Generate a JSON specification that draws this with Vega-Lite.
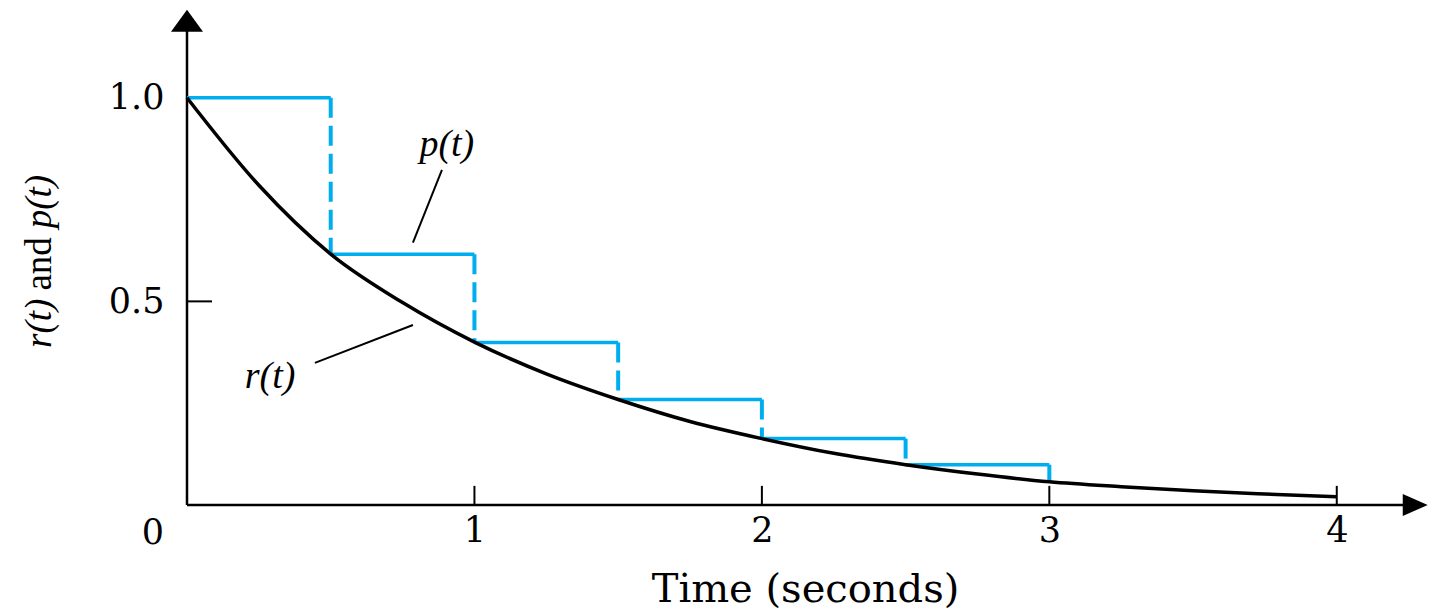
{
  "$schema": "https://vega.github.io/schema/vega-lite/v6.json",
  "width": 1236,
  "height": 505,
  "autosize": {"type": "none"},
  "padding": {"left": 187, "top": 0, "right": 6, "bottom": 106},
  "background": "white",
  "config": {"view": {"stroke": null}},
  "datasets": {
    "curve": [
      {"t": 0, "v": 1.0}, {"t": 0.25, "v": 0.785}, {"t": 0.5, "v": 0.616}, {"t": 0.75, "v": 0.497},
      {"t": 1.0, "v": 0.4}, {"t": 1.25, "v": 0.322}, {"t": 1.5, "v": 0.259}, {"t": 1.75, "v": 0.205},
      {"t": 2.0, "v": 0.163}, {"t": 2.25, "v": 0.127}, {"t": 2.5, "v": 0.099}, {"t": 2.75, "v": 0.076},
      {"t": 3.0, "v": 0.057}, {"t": 3.25, "v": 0.045}, {"t": 3.5, "v": 0.035}, {"t": 3.75, "v": 0.027},
      {"t": 4.0, "v": 0.02}
    ],
    "stepH": [
      {"t": 0, "t2": 0.5, "v": 1.0},
      {"t": 0.5, "t2": 1.0, "v": 0.616},
      {"t": 1.0, "t2": 1.5, "v": 0.399},
      {"t": 1.5, "t2": 2.0, "v": 0.259},
      {"t": 2.0, "t2": 2.5, "v": 0.163},
      {"t": 2.5, "t2": 3.0, "v": 0.099}
    ],
    "stepV": [
      {"t": 0.5, "v": 1.0, "v2": 0.616},
      {"t": 1.0, "v": 0.616, "v2": 0.399},
      {"t": 1.5, "v": 0.399, "v2": 0.259},
      {"t": 2.0, "v": 0.259, "v2": 0.163},
      {"t": 2.5, "v": 0.163, "v2": 0.099},
      {"t": 3.0, "v": 0.099, "v2": 0.057}
    ],
    "axisLines": [
      {"t": 0, "t2": 4.24, "v": 0, "v2": 0},
      {"t": 0, "t2": 0, "v": 0, "v2": 1.17}
    ],
    "xTicks": [
      {"t": 1, "v": 0, "v2": 0.047},
      {"t": 2, "v": 0, "v2": 0.047},
      {"t": 3, "v": 0, "v2": 0.047},
      {"t": 4, "v": 0, "v2": 0.047}
    ],
    "yTicks": [
      {"t": 0, "t2": 0.087, "v": 0.5}
    ],
    "leaders": [
      {"t": 0.887, "v": 0.823, "t2": 0.786, "v2": 0.644},
      {"t": 0.445, "v": 0.349, "t2": 0.786, "v2": 0.442}
    ],
    "labels": [
      {"t": 0.904, "v": 0.885, "label": "p(t)"},
      {"t": 0.289, "v": 0.315, "label": "r(t)"}
    ],
    "yTitleItalic": [
      {"t": -0.511, "v": 0.446, "label": "r(t)"},
      {"t": -0.511, "v": 0.745, "label": "p(t)"}
    ],
    "yTitleUpright": [
      {"t": -0.511, "v": 0.592, "label": "and"}
    ],
    "origin": [{"t": 0, "v": 0, "label": "0"}],
    "arrowUp": [{"t": 0, "v": 1.189}],
    "arrowRight": [{"t": 4.273, "v": 0}]
  },
  "encoding": {
    "x": {"field": "t", "type": "quantitative", "scale": {"domain": [0, 4.3], "nice": false},
      "axis": {"values": [1, 2, 3, 4], "domain": false, "ticks": false, "grid": false,
        "labelFont": "DejaVu Serif", "labelFontSize": 35, "labelColor": "black", "labelPadding": 8,
        "title": "Time (seconds)", "titleFont": "DejaVu Serif", "titleFontSize": 40,
        "titleFontWeight": "normal", "titleColor": "black", "titleY": 96, "titleBaseline": "alphabetic"}},
    "y": {"field": "v", "type": "quantitative", "scale": {"domain": [0, 1.24], "nice": false},
      "axis": {"values": [0.5, 1.0], "format": ".1f", "domain": false, "ticks": false, "grid": false,
        "labelFont": "DejaVu Serif", "labelFontSize": 35, "labelColor": "black", "labelPadding": 23,
        "title": null}}
  },
  "layer": [
    {
      "data": {"name": "axisLines"},
      "mark": {"type": "rule", "color": "black", "strokeWidth": 2.5},
      "encoding": {"x2": {"field": "t2"}, "y2": {"field": "v2"}}
    },
    {
      "data": {"name": "xTicks"},
      "mark": {"type": "rule", "color": "black", "strokeWidth": 2},
      "encoding": {"y2": {"field": "v2"}}
    },
    {
      "data": {"name": "yTicks"},
      "mark": {"type": "rule", "color": "black", "strokeWidth": 2},
      "encoding": {"x2": {"field": "t2"}}
    },
    {
      "data": {"name": "arrowUp"},
      "mark": {"type": "point", "shape": "M0,-0.69L1,0.69L-1,0.69Z", "size": 1024, "filled": true, "color": "black", "opacity": 1, "strokeWidth": 0}
    },
    {
      "data": {"name": "arrowRight"},
      "mark": {"type": "point", "shape": "M0.78,0L-0.78,-0.69L-0.78,0.69Z", "size": 1024, "filled": true, "color": "black", "opacity": 1, "strokeWidth": 0}
    },
    {
      "data": {"name": "stepH"},
      "mark": {"type": "rule", "color": "#00AEEF", "strokeWidth": 3.5},
      "encoding": {"x2": {"field": "t2"}}
    },
    {
      "data": {"name": "stepV"},
      "mark": {"type": "rule", "color": "#00AEEF", "strokeWidth": 4, "strokeDash": [20, 8]},
      "encoding": {"y2": {"field": "v2"}}
    },
    {
      "data": {"name": "curve"},
      "mark": {"type": "line", "color": "black", "strokeWidth": 3.5, "interpolate": "monotone"}
    },
    {
      "data": {"name": "leaders"},
      "mark": {"type": "rule", "color": "black", "strokeWidth": 2},
      "encoding": {"x2": {"field": "t2"}, "y2": {"field": "v2"}}
    },
    {
      "data": {"name": "labels"},
      "mark": {"type": "text", "font": "Liberation Serif", "fontStyle": "italic", "fontSize": 38, "color": "black", "align": "center", "baseline": "middle"},
      "encoding": {"text": {"field": "label"}}
    },
    {
      "data": {"name": "yTitleItalic"},
      "mark": {"type": "text", "font": "Liberation Serif", "fontStyle": "italic", "fontSize": 37, "color": "black", "align": "center", "baseline": "middle", "angle": 270},
      "encoding": {"text": {"field": "label"}}
    },
    {
      "data": {"name": "yTitleUpright"},
      "mark": {"type": "text", "font": "Liberation Serif", "fontSize": 37, "color": "black", "align": "center", "baseline": "middle", "angle": 270},
      "encoding": {"text": {"field": "label"}}
    },
    {
      "data": {"name": "origin"},
      "mark": {"type": "text", "font": "DejaVu Serif", "fontSize": 35, "color": "black", "align": "center", "baseline": "middle", "dx": -34, "dy": 28},
      "encoding": {"text": {"field": "label"}}
    }
  ]
}
